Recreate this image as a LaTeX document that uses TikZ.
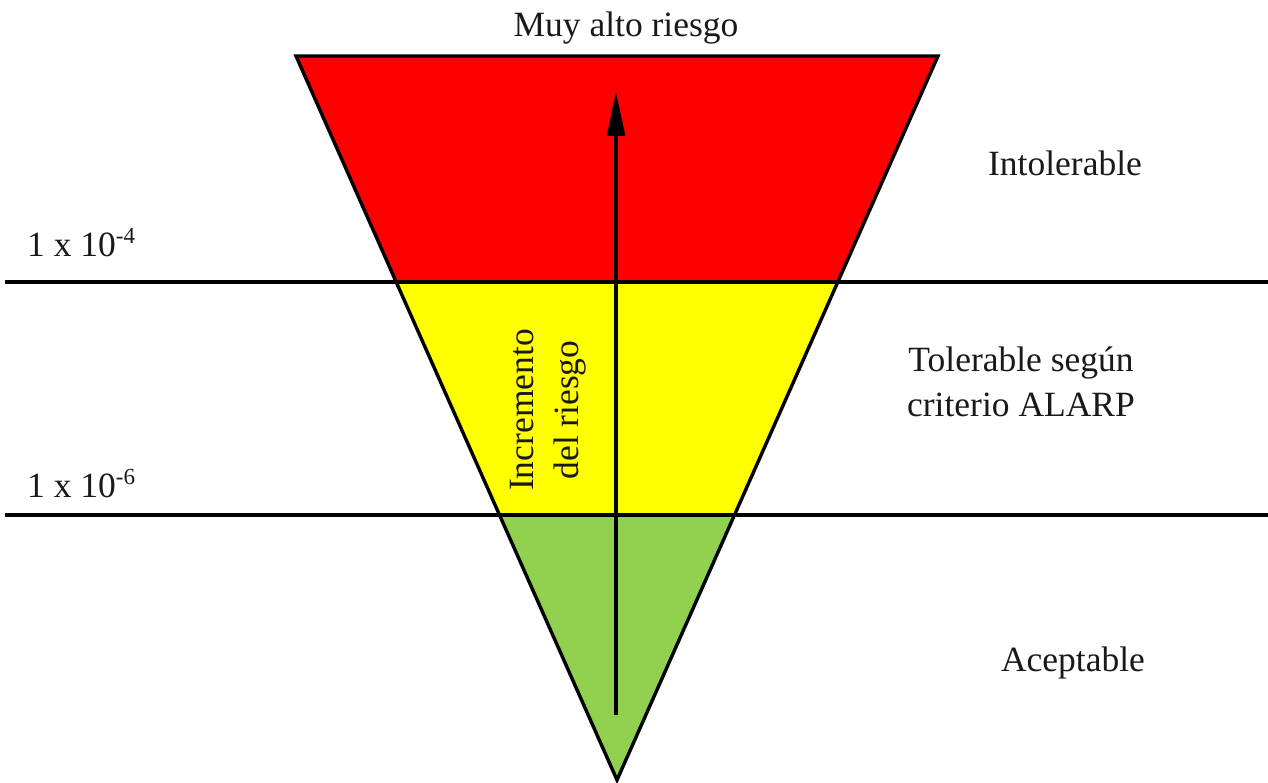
\documentclass[tikz,border=0pt]{standalone}
\usepackage{fontspec}
\setmainfont{Liberation Serif}
\usetikzlibrary{calc,arrows.meta}
\definecolor{zred}{RGB}{255,0,0}
\definecolor{zyellow}{RGB}{255,255,0}
\definecolor{zgreen}{RGB}{146,208,80}
\definecolor{ztext}{RGB}{25,25,25}
\newcommand{\zsup}[1]{\raisebox{13pt}{\fontsize{23}{23}\selectfont #1}}
\begin{document}
\begin{tikzpicture}[x=1pt,y=-1pt,
  lbl/.style={font=\fontsize{35.5}{45}\selectfont, inner sep=0pt, text=ztext},
  edge/.style={line width=3.4pt, black},
  hline/.style={line width=4pt, black},
  riskarrow/.style={line width=3.2pt, -{Triangle[length=44pt,width=18pt]}}]
\useasboundingbox (0,0) rectangle (1268,783);
\coordinate (TL) at (296,56);
\coordinate (TR) at (938,56);
\coordinate (B) at (617,780);
\coordinate (L1) at ($(TL)!0.3122!(B)$);
\coordinate (R1) at ($(TR)!0.3122!(B)$);
\coordinate (L2) at ($(TL)!0.634!(B)$);
\coordinate (R2) at ($(TR)!0.634!(B)$);
\fill[zred] (TL) -- (TR) -- (R1) -- (L1) -- cycle;
\fill[zyellow] (L1) -- (R1) -- (R2) -- (L2) -- cycle;
\fill[zgreen] (L2) -- (R2) -- (B) -- cycle;
\draw[edge, line join=miter] (TL) -- (TR) -- (B) -- cycle;
\coordinate (H1a) at (5,282);
\coordinate (H1b) at (1268,282);
\coordinate (H2a) at (5,515);
\coordinate (H2b) at (1268,515);
\draw[hline] (H1a) -- (H1b);
\draw[hline] (H2a) -- (H2b);
\coordinate (As) at (616,715);
\coordinate (Ae) at (616,92);
\draw[riskarrow] (As) -- (Ae);
\node[lbl] (top) at (626,28) {Muy alto riesgo};
\node[lbl] (intol) at (1065,163) {Intolerable};
\node[lbl, align=center] (tol) at (1021,382) {Tolerable según\\criterio ALARP};
\node[lbl] (acc) at (1073,663) {Aceptable};
\node[lbl, anchor=base west] (p4) at (27,257) {1 x 10\zsup{-4}};
\node[lbl, anchor=base west] (p6) at (27,497) {1 x 10\zsup{-6}};
\node[lbl, align=center, rotate=90] (inc) at (548,410) {Incremento\\del riesgo};
\end{tikzpicture}
\end{document}
